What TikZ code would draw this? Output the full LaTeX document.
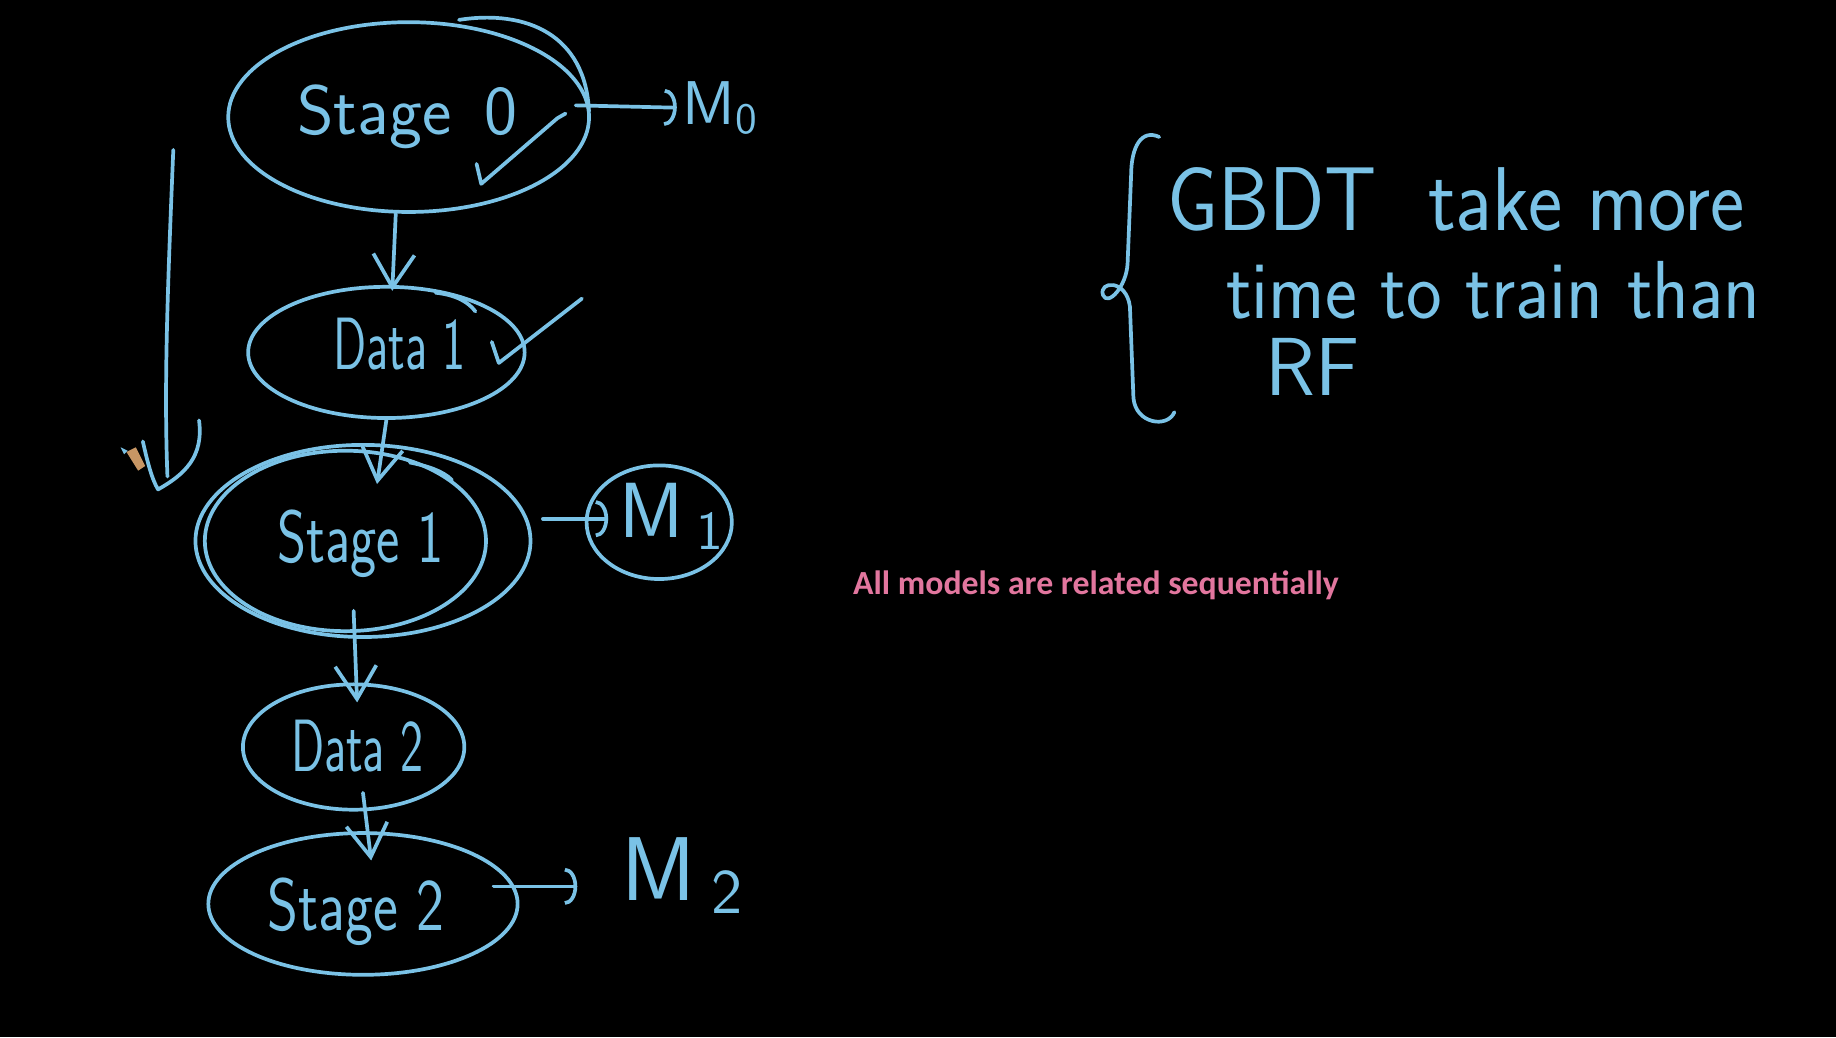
\documentclass[tikz,border=0pt]{standalone}
\usepackage{fontspec}
\newfontfamily\pinkfont{Carlito}
\usetikzlibrary{shapes.geometric,arrows.meta,calc}
\definecolor{chalk}{RGB}{122,194,230}
\definecolor{pinktxt}{RGB}{226,118,158}
\definecolor{pencilbody}{RGB}{200,150,100}
\begin{document}
\begin{tikzpicture}[x=0.01cm,y=-0.01cm, line width=0.9pt, line cap=round, line join=round,
  oval/.style={draw=chalk, ellipse, inner sep=0pt},
  hand/.style={text=chalk, font=\sffamily\fontsize{#1}{#1}\selectfont, inner sep=1pt},
  chalkline/.style={draw=chalk},
  vhead/.style={draw=chalk, -{Straight Barb[length=8pt,width=10pt]}},
  chead/.style={draw=chalk, -{Arc Barb[length=3pt,width=9pt]}}]
\fill[black] (0,0) rectangle (1568,886);
\useasboundingbox (0,0) rectangle (1568,886);

% ellipses
\node[oval, minimum width=3.08cm, minimum height=1.62cm] (s0) at (349,100) {};
\node[oval, minimum width=2.36cm, minimum height=1.12cm] (d1) at (330,301) {};
\node[oval, minimum width=2.86cm, minimum height=1.64cm] (s1) at (310,462) {};
\node[oval, minimum width=2.40cm, minimum height=1.54cm] (s1i) at (295,462) {};
\node[oval, minimum width=1.24cm, minimum height=0.97cm] (m1) at (563,446) {};
\node[oval, minimum width=1.89cm, minimum height=1.07cm] (d2) at (302,638) {};
\node[oval, minimum width=2.64cm, minimum height=1.21cm] (s2) at (310,772) {};

% texts
\node[hand=17, anchor=base] (t0) at (348,115) {Stage\ \,0};
\node[hand=18, anchor=base] (td1) at (341,316) {\scalebox{0.66}[1]{Data 1}};
\node[hand=18, anchor=base] (ts1) at (308,480) {\scalebox{0.75}[1]{Stage 1}};
\node[hand=18, anchor=base] (td2) at (305,659) {\scalebox{0.66}[1]{Data 2}};
\node[hand=18, anchor=base] (ts2) at (304,795) {\scalebox{0.8}[1]{Stage 2}};
\node[hand=15, anchor=west] (m0) at (578,92) {M\textsubscript{0}};
\node[hand=19, anchor=base] (tm1) at (574,459) {M\,\textsubscript{1}};
\node[hand=22, anchor=west] (m2) at (526,748) {M\,\textsubscript{2}};

% vertical arrows
\draw[vhead] ($(s0.south)+(-11,0)$) -- ($(d1.north)+(5,5)$);
\draw[vhead] (d1.south) -- ($(s1.north)+(12,35)$);
\draw[vhead] ($(s1.south)+(-8,-24)$) -- ($(d2.north)+(3,17)$);
\draw[vhead] ($(d2.south)+(8,-16)$) -- ($(s2.north)+(7,25)$);

% side arrows
\draw[chead] ($(s0.east)+(-13,-10)$) -- (m0.west);
\draw[chead] ($(s1.east)+(9,-19)$) -- ($(m1.west)+(20,-3)$);
\draw[chead] ($(s2.east)+(-22,-15)$) -- ($(m2.west)+(-33,9)$);

% long left arrow
\coordinate (lt) at (148,128);
\coordinate (lend) at (143,407);
\coordinate (lleft) at (122,377);
\coordinate (ltip) at (135,418);
\coordinate (lw) at (170,359);
\draw[chalkline] (lt) .. controls (143,250) and (140,330) .. (lend);
\draw[chalkline] (lleft) .. controls (126,395) and (130,410) .. (ltip)
  .. controls (158,405) and (174,390) .. (lw);

% pencil cursor
\fill[pencilbody] (108,386) -- (116,382) -- (124,398) -- (118,402) -- cycle;
\fill[chalk] (103,382) -- (109,385) -- (106,388) -- cycle;

% checkmarks
\draw[chalkline] (407,140) -- (411,157) -- (476,101) -- (483,97);
\draw[chalkline] (420,292) -- (426,310) -- (497,255);

% extra strokes
\draw[chalkline] (392,17) .. controls (450,8) and (500,30) .. (503,95);
\draw[chalkline] (372,250) .. controls (390,252) and (400,258) .. (406,266);
\draw[chalkline] (350,395) .. controls (365,398) and (378,402) .. (386,410);

% brace
\draw[chalkline] (990,117) .. controls (975,110) and (966,125) .. (966,150)
  -- (963,225) .. controls (962,245) and (946,262) .. (942,252)
  .. controls (938,240) and (962,238) .. (965,262)
  -- (968,340) .. controls (970,362) and (997,366) .. (1003,352);

% GBDT note
\node[hand=22, anchor=west] (g1) at (992,170) {\scalebox{0.9}[1]{GBDT\ \ take more}};
\node[hand=20, anchor=west] (g2) at (1042,248) {\scalebox{0.92}[1]{time to train than}};
\node[hand=20, anchor=west] (g3) at (1076,313) {RF};

% pink caption
\node[text=pinktxt, font=\pinkfont\bfseries\fontsize{8.2}{10}\selectfont] (cap) at (936,500) {All models are related sequentially};
\end{tikzpicture}
\end{document}
